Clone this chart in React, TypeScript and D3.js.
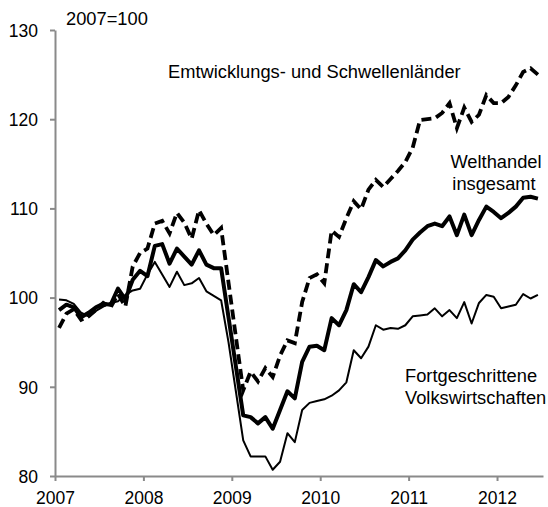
import { useEffect, useRef } from "react";
import * as d3 from "d3";

// monthly index values, Jan 2007 .. Jun 2012 (2007 = 100)
const advanced = [
  99.8, 99.7, 99.3, 98.3, 97.9, 98.5, 99.0, 99.4, 99.6, 100.3, 100.8, 101.0,
  102.6, 104.0, 102.6, 101.2, 102.9, 101.4, 101.6, 102.2, 100.7, 100.2, 99.7, 95.0,
  89.5, 84.0, 82.2, 82.2, 82.2, 80.7, 81.6, 84.8, 83.8, 87.4, 88.2, 88.4,
  88.6, 89.0, 89.6, 90.5, 94.1, 93.2, 94.5, 96.9, 96.4, 96.6, 96.5, 96.9,
  97.9, 98.0, 98.1, 98.8, 97.9, 98.6, 97.7, 99.5, 97.1, 99.4, 100.3, 100.1,
  98.8, 99.0, 99.2, 100.4, 99.9, 100.3,
];
const world = [
  98.6, 99.2, 98.9, 97.8, 98.3, 98.9, 99.3, 99.2, 101.0, 99.8, 102.0, 103.0,
  102.4, 105.8, 106.0, 103.8, 105.5, 104.6, 103.7, 105.3, 103.7, 103.3, 103.3, 97.8,
  92.3, 86.8, 86.6, 85.9, 86.6, 85.3, 87.4, 89.5, 88.7, 92.8, 94.5, 94.6,
  94.1, 97.7, 96.9, 98.6, 101.5, 100.6, 102.3, 104.2, 103.5, 104.0, 104.4, 105.3,
  106.5, 107.3, 108.0, 108.3, 108.0, 109.1, 107.0, 109.3, 107.0, 108.7, 110.2, 109.6,
  108.9, 109.5, 110.2, 111.2, 111.3, 111.1,
];
const emerging = [
  96.6, 98.2, 98.7, 97.5, 97.9, 98.6, 99.4, 98.9, 100.4, 99.0, 103.5, 105.0,
  105.5, 108.3, 108.6, 107.2, 109.5, 108.4, 106.6, 109.8, 108.3, 107.0, 107.8, 101.7,
  95.6, 89.6, 91.7, 90.6, 92.1, 91.1, 93.5, 95.2, 94.9, 99.5, 102.2, 102.6,
  101.6, 107.5, 106.8, 108.9, 110.8, 109.9, 112.1, 113.2, 112.4, 113.3, 114.2, 115.2,
  116.8, 119.9, 120.0, 120.1, 120.7, 121.8, 119.0, 121.3, 119.7, 120.5, 122.7, 121.8,
  121.8, 122.5, 123.8, 125.3, 125.7, 125.0,
];
const years = [2007, 2008, 2009, 2010, 2011, 2012];
const yTicks = [80, 90, 100, 110, 120, 130];

const W = 548;
const H = 507;
const FONT = "'Liberation Sans', Arial, sans-serif";

const App = () => {
  const ref = useRef<SVGSVGElement>(null);

  useEffect(() => {
    const svg = d3.select(ref.current);
    svg.selectAll("*").remove();

    const x = d3.scaleLinear().domain([2007, 2012.52]).range([55, 543]);
    const y = d3.scaleLinear().domain([80, 130]).range([476, 30]);
    const t = (i: number) => 2007 + (i + 0.55) / 12;

    const line = d3
      .line<number>()
      .x((d, i) => x(t(i)))
      .y((d) => y(d));

    // axes
    const gx = svg
      .append("g")
      .attr("transform", `translate(0,${y(80)})`)
      .call(
        d3.axisBottom(x).tickValues(years).tickFormat(d3.format("d")).tickSize(5).tickSizeOuter(0).tickPadding(11)
      );
    const gy = svg
      .append("g")
      .attr("transform", `translate(${x(2007)},0)`)
      .call(d3.axisLeft(y).tickValues(yTicks).tickSize(5).tickSizeOuter(0).tickPadding(12));

    [gx, gy].forEach((g) => {
      g.select(".domain").attr("stroke", "#8a8a8a").attr("stroke-width", 2);
      g.selectAll(".tick line").attr("stroke", "#8a8a8a").attr("stroke-width", 2);
      g.selectAll(".tick text")
        .attr("fill", "#000")
        .style("font-family", FONT)
        .style("font-size", "17.5px");
    });
    gy.selectAll(".tick text").attr("dy", "0.36em");

    // series
    svg.append("path")
      .datum(advanced)
      .attr("d", line)
      .attr("fill", "none")
      .attr("stroke", "#000")
      .attr("stroke-width", 2)
      .attr("stroke-linejoin", "round");

    svg.append("path")
      .datum(world)
      .attr("d", line)
      .attr("fill", "none")
      .attr("stroke", "#000")
      .attr("stroke-width", 4)
      .attr("stroke-linejoin", "round");

    svg.append("path")
      .datum(emerging)
      .attr("d", line)
      .attr("fill", "none")
      .attr("stroke", "#000")
      .attr("stroke-width", 3.8)
      .attr("stroke-dasharray", "10,5");

    // labels
    const label = (txt: string, lx: number, ly: number, anchor = "start") =>
      svg.append("text")
        .attr("x", lx)
        .attr("y", ly)
        .attr("text-anchor", anchor)
        .style("font-family", FONT)
        .style("font-size", "18.3px")
        .attr("fill", "#000")
        .text(txt);

    label("2007=100", 66, 25);
    label("Emtwicklungs- und Schwellenländer", 168, 78);
    label("Welthandel", 496, 168, "middle");
    label("insgesamt", 494, 190, "middle");
    label("Fortgeschrittene", 405, 382);
    label("Volkswirtschaften", 405, 404);
  }, []);

  return (
    <svg
      ref={ref}
      width={W}
      height={H}
      style={{ position: "absolute", left: 0, top: 0, background: "#fff" }}
    />
  );
};

export default App;
